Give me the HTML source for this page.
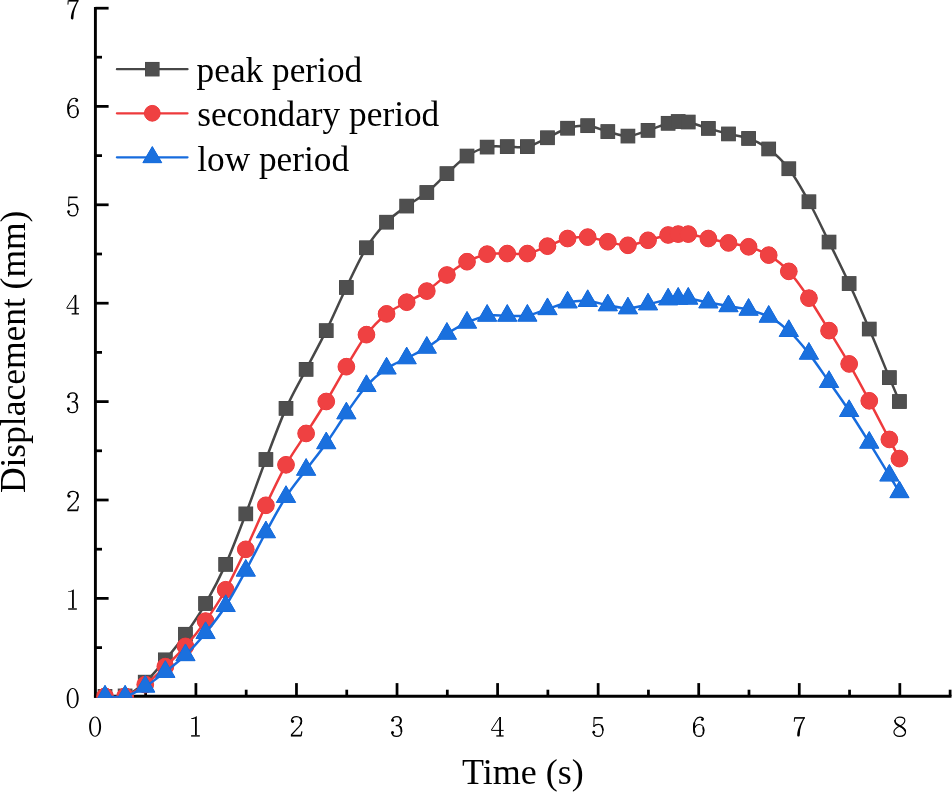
<!DOCTYPE html>
<html><head><meta charset="utf-8"><style>
html,body{margin:0;padding:0;background:#fff;}
svg{display:block;font-family:"Liberation Serif",serif;will-change:transform;}

</style></head><body>
<svg width="952" height="792" viewBox="0 0 952 792">
<defs><clipPath id="c"><rect x="93.95" y="0" width="856.6" height="697.75"/></clipPath></defs>
<rect width="952" height="792" fill="#fff"/>
<line x1="95.4" y1="6.9" x2="95.4" y2="697.75" stroke="#000" stroke-width="2.9"/>
<line x1="93.95" y1="696.3" x2="951.49" y2="696.3" stroke="#000" stroke-width="2.9"/>
<line x1="95.4" y1="647.6" x2="102" y2="647.6" stroke="#000" stroke-width="2.75"/>
<line x1="95.4" y1="598.4" x2="108.6" y2="598.4" stroke="#000" stroke-width="2.75"/>
<line x1="95.4" y1="549.2" x2="102" y2="549.2" stroke="#000" stroke-width="2.75"/>
<line x1="95.4" y1="500" x2="108.6" y2="500" stroke="#000" stroke-width="2.75"/>
<line x1="95.4" y1="450.8" x2="102" y2="450.8" stroke="#000" stroke-width="2.75"/>
<line x1="95.4" y1="401.6" x2="108.6" y2="401.6" stroke="#000" stroke-width="2.75"/>
<line x1="95.4" y1="352.4" x2="102" y2="352.4" stroke="#000" stroke-width="2.75"/>
<line x1="95.4" y1="303.2" x2="108.6" y2="303.2" stroke="#000" stroke-width="2.75"/>
<line x1="95.4" y1="254" x2="102" y2="254" stroke="#000" stroke-width="2.75"/>
<line x1="95.4" y1="204.8" x2="108.6" y2="204.8" stroke="#000" stroke-width="2.75"/>
<line x1="95.4" y1="155.6" x2="102" y2="155.6" stroke="#000" stroke-width="2.75"/>
<line x1="95.4" y1="106.4" x2="108.6" y2="106.4" stroke="#000" stroke-width="2.75"/>
<line x1="95.4" y1="57.2" x2="102" y2="57.2" stroke="#000" stroke-width="2.75"/>
<line x1="95.4" y1="8.2" x2="108.6" y2="8.2" stroke="#000" stroke-width="2.75"/>
<line x1="145.63" y1="696.3" x2="145.63" y2="689.7" stroke="#000" stroke-width="2.75"/>
<line x1="195.91" y1="696.3" x2="195.91" y2="683.1" stroke="#000" stroke-width="2.75"/>
<line x1="246.19" y1="696.3" x2="246.19" y2="689.7" stroke="#000" stroke-width="2.75"/>
<line x1="296.47" y1="696.3" x2="296.47" y2="683.1" stroke="#000" stroke-width="2.75"/>
<line x1="346.75" y1="696.3" x2="346.75" y2="689.7" stroke="#000" stroke-width="2.75"/>
<line x1="397.03" y1="696.3" x2="397.03" y2="683.1" stroke="#000" stroke-width="2.75"/>
<line x1="447.31" y1="696.3" x2="447.31" y2="689.7" stroke="#000" stroke-width="2.75"/>
<line x1="497.59" y1="696.3" x2="497.59" y2="683.1" stroke="#000" stroke-width="2.75"/>
<line x1="547.87" y1="696.3" x2="547.87" y2="689.7" stroke="#000" stroke-width="2.75"/>
<line x1="598.15" y1="696.3" x2="598.15" y2="683.1" stroke="#000" stroke-width="2.75"/>
<line x1="648.43" y1="696.3" x2="648.43" y2="689.7" stroke="#000" stroke-width="2.75"/>
<line x1="698.71" y1="696.3" x2="698.71" y2="683.1" stroke="#000" stroke-width="2.75"/>
<line x1="748.99" y1="696.3" x2="748.99" y2="689.7" stroke="#000" stroke-width="2.75"/>
<line x1="799.27" y1="696.3" x2="799.27" y2="683.1" stroke="#000" stroke-width="2.75"/>
<line x1="849.55" y1="696.3" x2="849.55" y2="689.7" stroke="#000" stroke-width="2.75"/>
<line x1="899.83" y1="696.3" x2="899.83" y2="683.1" stroke="#000" stroke-width="2.75"/>
<line x1="950.11" y1="696.3" x2="950.11" y2="689.7" stroke="#000" stroke-width="2.75"/>
<g clip-path="url(#c)">
<path d="M105.01,696.4C108.36,696.32 118.41,698.28 125.12,695.91C131.82,693.53 138.53,688.16 145.23,682.15C151.93,676.13 158.64,667.81 165.34,659.83C172.05,651.85 178.75,643.66 185.45,634.27C192.16,624.89 198.86,615.16 205.57,603.51C212.27,591.86 218.97,579.32 225.68,564.38C232.38,549.44 239.09,531.34 245.79,513.86C252.49,496.38 259.2,477.08 265.9,459.5C272.61,441.92 279.31,423.4 286.01,408.38C292.72,393.36 299.42,382.32 306.13,369.36C312.83,356.4 319.53,344.27 326.24,330.63C332.94,316.98 339.65,301.28 346.35,287.47C353.05,273.66 359.76,258.64 366.46,247.76C373.17,236.88 379.87,229.15 386.57,222.2C393.28,215.25 399.98,211.03 406.69,206.08C413.39,201.13 420.09,197.92 426.8,192.51C433.5,187.11 440.21,179.72 446.91,173.64C453.61,167.56 460.32,160.47 467.02,156.04C473.73,151.62 480.43,148.67 487.13,147.1C493.84,145.53 500.54,146.69 507.25,146.61C513.95,146.53 520.65,148.08 527.36,146.61C534.06,145.13 540.77,140.82 547.47,137.76C554.17,134.7 560.88,130.24 567.58,128.23C574.29,126.21 580.99,125.11 587.69,125.67C594.4,126.23 601.1,129.83 607.81,131.57C614.51,133.3 621.21,136.29 627.92,136.09C634.62,135.89 641.33,132.52 648.03,130.39C654.73,128.26 663.11,124.79 668.14,123.31C673.17,121.84 674.85,121.75 678.2,121.54C681.55,121.33 683.23,120.89 688.25,122.03C693.28,123.18 701.66,126.44 708.37,128.42C715.07,130.4 721.77,132.26 728.48,133.93C735.18,135.6 741.89,135.94 748.59,138.45C755.29,140.96 762,143.92 768.7,148.97C775.41,154.01 782.11,159.93 788.81,168.73C795.52,177.52 802.22,189.53 808.93,201.75C815.63,213.98 822.33,228.43 829.04,242.06C835.74,255.69 842.45,269.04 849.15,283.54C855.85,298.04 862.56,313.37 869.26,329.05C875.97,344.73 884.35,365.54 889.37,377.61C894.4,389.69 897.75,397.52 899.43,401.5" fill="none" stroke="#474747" stroke-width="2.5"/>
<g fill="#454545" stroke="#454545" stroke-width="1.0"><rect x="98.16" y="689.55" width="13.7" height="13.7"/><rect x="118.27" y="689.06" width="13.7" height="13.7"/><rect x="138.38" y="675.3" width="13.7" height="13.7"/><rect x="158.49" y="652.98" width="13.7" height="13.7"/><rect x="178.6" y="627.42" width="13.7" height="13.7"/><rect x="198.72" y="596.66" width="13.7" height="13.7"/><rect x="218.83" y="557.53" width="13.7" height="13.7"/><rect x="238.94" y="507.01" width="13.7" height="13.7"/><rect x="259.05" y="452.65" width="13.7" height="13.7"/><rect x="279.16" y="401.53" width="13.7" height="13.7"/><rect x="299.28" y="362.51" width="13.7" height="13.7"/><rect x="319.39" y="323.78" width="13.7" height="13.7"/><rect x="339.5" y="280.62" width="13.7" height="13.7"/><rect x="359.61" y="240.91" width="13.7" height="13.7"/><rect x="379.72" y="215.35" width="13.7" height="13.7"/><rect x="399.84" y="199.23" width="13.7" height="13.7"/><rect x="419.95" y="185.66" width="13.7" height="13.7"/><rect x="440.06" y="166.79" width="13.7" height="13.7"/><rect x="460.17" y="149.19" width="13.7" height="13.7"/><rect x="480.28" y="140.25" width="13.7" height="13.7"/><rect x="500.4" y="139.76" width="13.7" height="13.7"/><rect x="520.51" y="139.76" width="13.7" height="13.7"/><rect x="540.62" y="130.91" width="13.7" height="13.7"/><rect x="560.73" y="121.38" width="13.7" height="13.7"/><rect x="580.84" y="118.82" width="13.7" height="13.7"/><rect x="600.96" y="124.72" width="13.7" height="13.7"/><rect x="621.07" y="129.24" width="13.7" height="13.7"/><rect x="641.18" y="123.54" width="13.7" height="13.7"/><rect x="661.29" y="116.46" width="13.7" height="13.7"/><rect x="671.35" y="114.69" width="13.7" height="13.7"/><rect x="681.4" y="115.18" width="13.7" height="13.7"/><rect x="701.52" y="121.57" width="13.7" height="13.7"/><rect x="721.63" y="127.08" width="13.7" height="13.7"/><rect x="741.74" y="131.6" width="13.7" height="13.7"/><rect x="761.85" y="142.12" width="13.7" height="13.7"/><rect x="781.96" y="161.88" width="13.7" height="13.7"/><rect x="802.08" y="194.9" width="13.7" height="13.7"/><rect x="822.19" y="235.21" width="13.7" height="13.7"/><rect x="842.3" y="276.69" width="13.7" height="13.7"/><rect x="862.41" y="322.2" width="13.7" height="13.7"/><rect x="882.52" y="370.76" width="13.7" height="13.7"/><rect x="892.58" y="394.65" width="13.7" height="13.7"/></g><g fill="#4f4f4f"><rect x="98.16" y="689.55" width="13.7" height="13.7"/><rect x="118.27" y="689.06" width="13.7" height="13.7"/><rect x="138.38" y="675.3" width="13.7" height="13.7"/><rect x="158.49" y="652.98" width="13.7" height="13.7"/><rect x="178.6" y="627.42" width="13.7" height="13.7"/><rect x="198.72" y="596.66" width="13.7" height="13.7"/><rect x="218.83" y="557.53" width="13.7" height="13.7"/><rect x="238.94" y="507.01" width="13.7" height="13.7"/><rect x="259.05" y="452.65" width="13.7" height="13.7"/><rect x="279.16" y="401.53" width="13.7" height="13.7"/><rect x="299.28" y="362.51" width="13.7" height="13.7"/><rect x="319.39" y="323.78" width="13.7" height="13.7"/><rect x="339.5" y="280.62" width="13.7" height="13.7"/><rect x="359.61" y="240.91" width="13.7" height="13.7"/><rect x="379.72" y="215.35" width="13.7" height="13.7"/><rect x="399.84" y="199.23" width="13.7" height="13.7"/><rect x="419.95" y="185.66" width="13.7" height="13.7"/><rect x="440.06" y="166.79" width="13.7" height="13.7"/><rect x="460.17" y="149.19" width="13.7" height="13.7"/><rect x="480.28" y="140.25" width="13.7" height="13.7"/><rect x="500.4" y="139.76" width="13.7" height="13.7"/><rect x="520.51" y="139.76" width="13.7" height="13.7"/><rect x="540.62" y="130.91" width="13.7" height="13.7"/><rect x="560.73" y="121.38" width="13.7" height="13.7"/><rect x="580.84" y="118.82" width="13.7" height="13.7"/><rect x="600.96" y="124.72" width="13.7" height="13.7"/><rect x="621.07" y="129.24" width="13.7" height="13.7"/><rect x="641.18" y="123.54" width="13.7" height="13.7"/><rect x="661.29" y="116.46" width="13.7" height="13.7"/><rect x="671.35" y="114.69" width="13.7" height="13.7"/><rect x="681.4" y="115.18" width="13.7" height="13.7"/><rect x="701.52" y="121.57" width="13.7" height="13.7"/><rect x="721.63" y="127.08" width="13.7" height="13.7"/><rect x="741.74" y="131.6" width="13.7" height="13.7"/><rect x="761.85" y="142.12" width="13.7" height="13.7"/><rect x="781.96" y="161.88" width="13.7" height="13.7"/><rect x="802.08" y="194.9" width="13.7" height="13.7"/><rect x="822.19" y="235.21" width="13.7" height="13.7"/><rect x="842.3" y="276.69" width="13.7" height="13.7"/><rect x="862.41" y="322.2" width="13.7" height="13.7"/><rect x="882.52" y="370.76" width="13.7" height="13.7"/><rect x="892.58" y="394.65" width="13.7" height="13.7"/></g>
<path d="M105.01,696.4C108.36,696.4 118.41,698.37 125.12,696.4C131.82,694.43 138.53,689.57 145.23,684.6C151.93,679.64 158.64,672.99 165.34,666.62C172.05,660.24 178.75,653.95 185.45,646.37C192.16,638.78 198.86,630.54 205.57,621.1C212.27,611.67 218.97,601.7 225.68,589.74C232.38,577.78 239.09,563.42 245.79,549.34C252.49,535.27 259.2,519.39 265.9,505.3C272.61,491.22 279.31,476.78 286.01,464.81C292.72,452.83 299.42,444 306.13,433.45C312.83,422.9 319.53,412.62 326.24,401.5C332.94,390.38 339.65,377.84 346.35,366.7C353.05,355.56 359.76,343.45 366.46,334.66C373.17,325.86 379.87,319.32 386.57,313.91C393.28,308.51 399.98,306.02 406.69,302.22C413.39,298.42 420.09,295.65 426.8,291.11C433.5,286.57 440.21,279.89 446.91,274.99C453.61,270.09 460.32,265.19 467.02,261.72C473.73,258.24 480.43,255.51 487.13,254.15C493.84,252.79 500.54,253.66 507.25,253.56C513.95,253.46 520.65,254.79 527.36,253.56C534.06,252.33 540.77,248.69 547.47,246.19C554.17,243.68 560.88,240.03 567.58,238.52C574.29,237.01 580.99,236.6 587.69,237.14C594.4,237.68 601.1,240.4 607.81,241.76C614.51,243.12 621.21,245.55 627.92,245.3C634.62,245.06 641.33,242.01 648.03,240.29C654.73,238.57 663.11,236.01 668.14,234.98C673.17,233.95 674.85,234.24 678.2,234.1C681.55,233.95 683.23,233.36 688.25,234.1C693.28,234.83 701.66,237.04 708.37,238.52C715.07,239.99 721.77,241.57 728.48,242.94C735.18,244.32 741.89,244.74 748.59,246.78C755.29,248.81 762,251.04 768.7,255.13C775.41,259.23 782.11,264.17 788.81,271.35C795.52,278.53 802.22,288.31 808.93,298.19C815.63,308.07 822.33,319.67 829.04,330.63C835.74,341.59 842.45,352.25 849.15,363.95C855.85,375.65 862.56,388.23 869.26,400.81C875.97,413.39 884.35,429.81 889.37,439.44C894.4,449.08 897.75,455.42 899.43,458.61" fill="none" stroke="#ee3a3c" stroke-width="2.5"/>
<g fill="#ec3538" stroke="#ec3538" stroke-width="1.0"><circle cx="105.01" cy="696.4" r="8.35"/><circle cx="125.12" cy="696.4" r="8.35"/><circle cx="145.23" cy="684.6" r="8.35"/><circle cx="165.34" cy="666.62" r="8.35"/><circle cx="185.45" cy="646.37" r="8.35"/><circle cx="205.57" cy="621.1" r="8.35"/><circle cx="225.68" cy="589.74" r="8.35"/><circle cx="245.79" cy="549.34" r="8.35"/><circle cx="265.9" cy="505.3" r="8.35"/><circle cx="286.01" cy="464.81" r="8.35"/><circle cx="306.13" cy="433.45" r="8.35"/><circle cx="326.24" cy="401.5" r="8.35"/><circle cx="346.35" cy="366.7" r="8.35"/><circle cx="366.46" cy="334.66" r="8.35"/><circle cx="386.57" cy="313.91" r="8.35"/><circle cx="406.69" cy="302.22" r="8.35"/><circle cx="426.8" cy="291.11" r="8.35"/><circle cx="446.91" cy="274.99" r="8.35"/><circle cx="467.02" cy="261.72" r="8.35"/><circle cx="487.13" cy="254.15" r="8.35"/><circle cx="507.25" cy="253.56" r="8.35"/><circle cx="527.36" cy="253.56" r="8.35"/><circle cx="547.47" cy="246.19" r="8.35"/><circle cx="567.58" cy="238.52" r="8.35"/><circle cx="587.69" cy="237.14" r="8.35"/><circle cx="607.81" cy="241.76" r="8.35"/><circle cx="627.92" cy="245.3" r="8.35"/><circle cx="648.03" cy="240.29" r="8.35"/><circle cx="668.14" cy="234.98" r="8.35"/><circle cx="678.2" cy="234.1" r="8.35"/><circle cx="688.25" cy="234.1" r="8.35"/><circle cx="708.37" cy="238.52" r="8.35"/><circle cx="728.48" cy="242.94" r="8.35"/><circle cx="748.59" cy="246.78" r="8.35"/><circle cx="768.7" cy="255.13" r="8.35"/><circle cx="788.81" cy="271.35" r="8.35"/><circle cx="808.93" cy="298.19" r="8.35"/><circle cx="829.04" cy="330.63" r="8.35"/><circle cx="849.15" cy="363.95" r="8.35"/><circle cx="869.26" cy="400.81" r="8.35"/><circle cx="889.37" cy="439.44" r="8.35"/><circle cx="899.43" cy="458.61" r="8.35"/></g><g fill="#ef4142"><circle cx="105.01" cy="696.4" r="8.35"/><circle cx="125.12" cy="696.4" r="8.35"/><circle cx="145.23" cy="684.6" r="8.35"/><circle cx="165.34" cy="666.62" r="8.35"/><circle cx="185.45" cy="646.37" r="8.35"/><circle cx="205.57" cy="621.1" r="8.35"/><circle cx="225.68" cy="589.74" r="8.35"/><circle cx="245.79" cy="549.34" r="8.35"/><circle cx="265.9" cy="505.3" r="8.35"/><circle cx="286.01" cy="464.81" r="8.35"/><circle cx="306.13" cy="433.45" r="8.35"/><circle cx="326.24" cy="401.5" r="8.35"/><circle cx="346.35" cy="366.7" r="8.35"/><circle cx="366.46" cy="334.66" r="8.35"/><circle cx="386.57" cy="313.91" r="8.35"/><circle cx="406.69" cy="302.22" r="8.35"/><circle cx="426.8" cy="291.11" r="8.35"/><circle cx="446.91" cy="274.99" r="8.35"/><circle cx="467.02" cy="261.72" r="8.35"/><circle cx="487.13" cy="254.15" r="8.35"/><circle cx="507.25" cy="253.56" r="8.35"/><circle cx="527.36" cy="253.56" r="8.35"/><circle cx="547.47" cy="246.19" r="8.35"/><circle cx="567.58" cy="238.52" r="8.35"/><circle cx="587.69" cy="237.14" r="8.35"/><circle cx="607.81" cy="241.76" r="8.35"/><circle cx="627.92" cy="245.3" r="8.35"/><circle cx="648.03" cy="240.29" r="8.35"/><circle cx="668.14" cy="234.98" r="8.35"/><circle cx="678.2" cy="234.1" r="8.35"/><circle cx="688.25" cy="234.1" r="8.35"/><circle cx="708.37" cy="238.52" r="8.35"/><circle cx="728.48" cy="242.94" r="8.35"/><circle cx="748.59" cy="246.78" r="8.35"/><circle cx="768.7" cy="255.13" r="8.35"/><circle cx="788.81" cy="271.35" r="8.35"/><circle cx="808.93" cy="298.19" r="8.35"/><circle cx="829.04" cy="330.63" r="8.35"/><circle cx="849.15" cy="363.95" r="8.35"/><circle cx="869.26" cy="400.81" r="8.35"/><circle cx="889.37" cy="439.44" r="8.35"/><circle cx="899.43" cy="458.61" r="8.35"/></g>
<path d="M105.01,696.4C108.36,696.4 118.41,698.04 125.12,696.4C131.82,694.76 138.53,690.67 145.23,686.57C151.93,682.47 158.64,677.07 165.34,671.82C172.05,666.58 178.75,661.59 185.45,655.11C192.16,648.64 198.86,641.19 205.57,633C212.27,624.8 218.97,616.37 225.68,605.96C232.38,595.56 239.09,582.86 245.79,570.58C252.49,558.29 259.2,544.53 265.9,532.24C272.61,519.95 279.31,507.27 286.01,496.85C292.72,486.43 299.42,478.67 306.13,469.72C312.83,460.77 319.53,452.58 326.24,443.18C332.94,433.78 339.65,422.83 346.35,413.3C353.05,403.76 359.76,393.44 366.46,385.97C373.17,378.5 379.87,373.09 386.57,368.47C393.28,363.85 399.98,361.72 406.69,358.25C413.39,354.77 420.09,351.73 426.8,347.63C433.5,343.54 440.21,337.85 446.91,333.67C453.61,329.5 460.32,325.56 467.02,322.57C473.73,319.57 480.43,316.83 487.13,315.68C493.84,314.54 500.54,315.7 507.25,315.68C513.95,315.67 520.65,316.68 527.36,315.59C534.06,314.49 540.77,311.29 547.47,309.1C554.17,306.9 560.88,303.77 567.58,302.41C574.29,301.05 580.99,300.46 587.69,300.94C594.4,301.41 601.1,304.04 607.81,305.26C614.51,306.49 621.21,308.46 627.92,308.31C634.62,308.16 641.33,305.87 648.03,304.38C654.73,302.89 663.11,300.33 668.14,299.37C673.17,298.4 674.85,298.71 678.2,298.58C681.55,298.45 683.23,297.94 688.25,298.58C693.28,299.22 701.66,301.15 708.37,302.41C715.07,303.68 721.77,304.94 728.48,306.15C735.18,307.36 741.89,307.93 748.59,309.69C755.29,311.44 762,313.13 768.7,316.67C775.41,320.21 782.11,324.76 788.81,330.92C795.52,337.08 802.22,345.14 808.93,353.63C815.63,362.11 822.33,372.29 829.04,381.84C835.74,391.39 842.45,400.81 849.15,410.94C855.85,421.06 862.56,431.83 869.26,442.59C875.97,453.35 884.35,467.26 889.37,475.52C894.4,483.78 897.75,489.36 899.43,492.13" fill="none" stroke="#176cde" stroke-width="2.5"/>
<g fill="#1066da" stroke="#1066da" stroke-width="1.0"><path d="M105.01,685.27L114.64,701.97L95.37,701.97Z"/><path d="M125.12,685.27L134.75,701.97L115.48,701.97Z"/><path d="M145.23,675.44L154.86,692.14L135.59,692.14Z"/><path d="M165.34,660.69L174.98,677.39L155.71,677.39Z"/><path d="M185.45,643.98L195.09,660.68L175.82,660.68Z"/><path d="M205.57,621.86L215.2,638.56L195.93,638.56Z"/><path d="M225.68,594.83L235.31,611.53L216.04,611.53Z"/><path d="M245.79,559.44L255.42,576.14L236.16,576.14Z"/><path d="M265.9,521.11L275.54,537.81L256.27,537.81Z"/><path d="M286.01,485.72L295.65,502.42L276.38,502.42Z"/><path d="M306.13,458.59L315.76,475.29L296.49,475.29Z"/><path d="M326.24,432.05L335.87,448.75L316.6,448.75Z"/><path d="M346.35,402.16L355.99,418.86L336.72,418.86Z"/><path d="M366.46,374.84L376.1,391.54L356.83,391.54Z"/><path d="M386.57,357.34L396.21,374.04L376.94,374.04Z"/><path d="M406.69,347.11L416.32,363.81L397.05,363.81Z"/><path d="M426.8,336.5L436.43,353.2L417.16,353.2Z"/><path d="M446.91,322.54L456.55,339.24L437.28,339.24Z"/><path d="M467.02,311.43L476.66,328.13L457.39,328.13Z"/><path d="M487.13,304.55L496.77,321.25L477.5,321.25Z"/><path d="M507.25,304.55L516.88,321.25L497.61,321.25Z"/><path d="M527.36,304.45L536.99,321.15L517.72,321.15Z"/><path d="M547.47,297.96L557.11,314.66L537.84,314.66Z"/><path d="M567.58,291.28L577.22,307.98L557.95,307.98Z"/><path d="M587.69,289.81L597.33,306.51L578.06,306.51Z"/><path d="M607.81,294.13L617.44,310.83L598.17,310.83Z"/><path d="M627.92,297.18L637.55,313.88L618.28,313.88Z"/><path d="M648.03,293.25L657.67,309.95L638.4,309.95Z"/><path d="M668.14,288.23L677.78,304.93L658.51,304.93Z"/><path d="M678.2,287.45L687.83,304.15L668.56,304.15Z"/><path d="M688.25,287.45L697.89,304.15L678.62,304.15Z"/><path d="M708.37,291.28L718,307.98L698.73,307.98Z"/><path d="M728.48,295.02L738.11,311.72L718.84,311.72Z"/><path d="M748.59,298.55L758.23,315.25L738.96,315.25Z"/><path d="M768.7,305.53L778.34,322.23L759.07,322.23Z"/><path d="M788.81,319.79L798.45,336.49L779.18,336.49Z"/><path d="M808.93,342.49L818.56,359.19L799.29,359.19Z"/><path d="M829.04,370.71L838.67,387.41L819.4,387.41Z"/><path d="M849.15,399.8L858.79,416.5L839.52,416.5Z"/><path d="M869.26,431.46L878.9,448.16L859.63,448.16Z"/><path d="M889.37,464.39L899.01,481.09L879.74,481.09Z"/><path d="M899.43,481L909.07,497.7L889.8,497.7Z"/></g><g fill="#1a70de"><path d="M105.01,685.27L114.64,701.97L95.37,701.97Z"/><path d="M125.12,685.27L134.75,701.97L115.48,701.97Z"/><path d="M145.23,675.44L154.86,692.14L135.59,692.14Z"/><path d="M165.34,660.69L174.98,677.39L155.71,677.39Z"/><path d="M185.45,643.98L195.09,660.68L175.82,660.68Z"/><path d="M205.57,621.86L215.2,638.56L195.93,638.56Z"/><path d="M225.68,594.83L235.31,611.53L216.04,611.53Z"/><path d="M245.79,559.44L255.42,576.14L236.16,576.14Z"/><path d="M265.9,521.11L275.54,537.81L256.27,537.81Z"/><path d="M286.01,485.72L295.65,502.42L276.38,502.42Z"/><path d="M306.13,458.59L315.76,475.29L296.49,475.29Z"/><path d="M326.24,432.05L335.87,448.75L316.6,448.75Z"/><path d="M346.35,402.16L355.99,418.86L336.72,418.86Z"/><path d="M366.46,374.84L376.1,391.54L356.83,391.54Z"/><path d="M386.57,357.34L396.21,374.04L376.94,374.04Z"/><path d="M406.69,347.11L416.32,363.81L397.05,363.81Z"/><path d="M426.8,336.5L436.43,353.2L417.16,353.2Z"/><path d="M446.91,322.54L456.55,339.24L437.28,339.24Z"/><path d="M467.02,311.43L476.66,328.13L457.39,328.13Z"/><path d="M487.13,304.55L496.77,321.25L477.5,321.25Z"/><path d="M507.25,304.55L516.88,321.25L497.61,321.25Z"/><path d="M527.36,304.45L536.99,321.15L517.72,321.15Z"/><path d="M547.47,297.96L557.11,314.66L537.84,314.66Z"/><path d="M567.58,291.28L577.22,307.98L557.95,307.98Z"/><path d="M587.69,289.81L597.33,306.51L578.06,306.51Z"/><path d="M607.81,294.13L617.44,310.83L598.17,310.83Z"/><path d="M627.92,297.18L637.55,313.88L618.28,313.88Z"/><path d="M648.03,293.25L657.67,309.95L638.4,309.95Z"/><path d="M668.14,288.23L677.78,304.93L658.51,304.93Z"/><path d="M678.2,287.45L687.83,304.15L668.56,304.15Z"/><path d="M688.25,287.45L697.89,304.15L678.62,304.15Z"/><path d="M708.37,291.28L718,307.98L698.73,307.98Z"/><path d="M728.48,295.02L738.11,311.72L718.84,311.72Z"/><path d="M748.59,298.55L758.23,315.25L738.96,315.25Z"/><path d="M768.7,305.53L778.34,322.23L759.07,322.23Z"/><path d="M788.81,319.79L798.45,336.49L779.18,336.49Z"/><path d="M808.93,342.49L818.56,359.19L799.29,359.19Z"/><path d="M829.04,370.71L838.67,387.41L819.4,387.41Z"/><path d="M849.15,399.8L858.79,416.5L839.52,416.5Z"/><path d="M869.26,431.46L878.9,448.16L859.63,448.16Z"/><path d="M889.37,464.39L899.01,481.09L879.74,481.09Z"/><path d="M899.43,481L909.07,497.7L889.8,497.7Z"/></g>
</g>
<g font-size="31" fill="#000">
<g transform="translate(72.95,708.1)"><path d="M-0.25,-20.05 C3.2,-20.05 5.75,-15.6 5.75,-9.95 C5.75,-4.3 3.2,0.1 -0.25,0.1 C-3.7,0.1 -6.25,-4.3 -6.25,-9.95 C-6.25,-15.6 -3.7,-20.05 -0.25,-20.05 Z M-0.25,-19.1 C-2.2,-19.1 -4.3,-16.5 -4.3,-9.95 C-4.3,-3.4 -2.2,-0.85 -0.25,-0.85 C1.7,-0.85 3.8,-3.4 3.8,-9.95 C3.8,-16.5 1.7,-19.1 -0.25,-19.1 Z" fill-rule="evenodd"/></g>
<g transform="translate(72.95,609.7)"><path d="M-0.9,-18.2 L-0.9,-1.4 L0.9,-1.4 L0.9,-20.3 L0.4,-20.3 C-0.8,-19.3 -2.6,-18.6 -4.7,-18.4 L-4.7,-17.6 C-3.2,-17.7 -1.9,-17.9 -0.9,-18.2 Z" /><path d="M-4.8,-0.7 L3.9,-0.7" stroke="#000" stroke-width="1.4" fill="none"/></g>
<g transform="translate(72.95,511.3)"><circle cx="-3.9" cy="-15.1" r="1.45"/><path d="M-5.1,-15.3 C-5,-18.3 -2.6,-19.95 0.2,-19.95 C3.2,-19.95 5.1,-17.9 5.1,-15 C5.1,-11.8 2.6,-9.6 -0.2,-7 L-5.2,-1.6" stroke="#000" stroke-width="1.25" fill="none"/><path d="M-5.6,-0.95 L4.8,-0.95" stroke="#000" stroke-width="1.8" fill="none"/><path d="M4.6,-0.6 L5.4,-5.2" stroke="#000" stroke-width="1.2" fill="none"/><path d="M3.6,-18.9 C5.1,-17.6 5.3,-14.6 3.9,-12.4" stroke="#000" stroke-width="1.8" fill="none"/></g>
<g transform="translate(72.95,412.9)"><circle cx="-4.4" cy="-16.2" r="1.45"/><path d="M-5.0,-16.4 C-4.5,-18.9 -2.4,-19.95 -0.1,-19.95 C2.4,-19.95 4.0,-18.4 4.0,-15.9 C4.0,-13.2 2.0,-11.1 -1.3,-11.0 L0.2,-11.0 C3.0,-10.9 4.5,-8.6 4.5,-5.7 C4.5,-2.3 2.4,-0.2 -0.6,-0.2 C-2.8,-0.2 -4.5,-1.3 -5.1,-3.6" stroke="#000" stroke-width="1.2" fill="none"/><circle cx="-4.5" cy="-4.1" r="1.5"/><path d="M3.0,-18.6 C4.0,-17.2 4.0,-14.8 2.8,-13.2" stroke="#000" stroke-width="1.6" fill="none"/><path d="M2.8,-10.2 C4.3,-9 4.6,-7 4.4,-4.5" stroke="#000" stroke-width="1.7" fill="none"/></g>
<g transform="translate(72.95,314.5)"><path d="M2.5,-19.6 L2.5,-0.6" stroke="#000" stroke-width="1.8" fill="none"/><path d="M2,-19.2 L-6.2,-6.6" stroke="#000" stroke-width="1.0" fill="none"/><path d="M-6.3,-6.2 L6.1,-6.2" stroke="#000" stroke-width="1.0" fill="none"/><path d="M-1.3,-0.65 L6,-0.65" stroke="#000" stroke-width="1.3" fill="none"/></g>
<g transform="translate(72.95,216.1)"><path d="M-4.3,-18.75 L4.6,-18.75" stroke="#000" stroke-width="1.6" fill="none"/><path d="M-4.0,-19.3 L-4.4,-9.8" stroke="#000" stroke-width="1.0" fill="none"/><path d="M-4.3,-10.0 C-3.4,-11.5 -1.7,-12.1 0.2,-12.1 C3.1,-12.1 4.8,-9.6 4.8,-6.3 C4.8,-2.6 2.8,-0.15 -0.1,-0.15 C-2.4,-0.15 -4.3,-1.5 -4.9,-3.9" stroke="#000" stroke-width="1.25" fill="none"/><circle cx="-4.4" cy="-4.4" r="1.4"/><path d="M3.0,-10.9 C4.4,-9.6 4.8,-8 4.8,-6" stroke="#000" stroke-width="1.7" fill="none"/></g>
<g transform="translate(72.95,117.7)"><circle cx="3.6" cy="-17.0" r="1.35"/><path d="M4.8,-17.2 C4.5,-18.7 3,-19.45 1.2,-19.45 C-2.4,-19.45 -4.9,-15.3 -4.9,-9.2 C-4.9,-3 -2.6,-0.15 0.2,-0.15 C3.2,-0.15 5.2,-2.6 5.2,-6.1 C5.2,-9.6 3.2,-12.1 0.5,-12.1 C-1.6,-12.1 -3.2,-10.8 -3.9,-8.8" stroke="#000" stroke-width="1.2" fill="none"/><path d="M-4.2,-14 C-5,-11.5 -5,-6 -4,-3.5" stroke="#000" stroke-width="1.9" fill="none"/><path d="M4.2,-9.5 C5.0,-7.5 5.0,-4.8 4.2,-2.9" stroke="#000" stroke-width="1.6" fill="none"/></g>
<g transform="translate(72.95,19.5)"><path d="M-4.4,-18.7 L5.4,-18.7" stroke="#000" stroke-width="1.6" fill="none"/><path d="M-4.7,-19.2 L-5.0,-14.9" stroke="#000" stroke-width="1.0" fill="none"/><path d="M4.5,-19.3 L5.8,-19.3 C2.8,-13.6 0.6,-8.6 0.5,-1.6 C0.5,-0.5 -0.2,0 -0.8,0 C-1.5,0 -2.1,-0.5 -2.1,-1.4 C-1.9,-7.4 1,-12.8 4.5,-19.3 Z"/></g>
<g transform="translate(95.35,736.6)"><path d="M-0.25,-20.05 C3.2,-20.05 5.75,-15.6 5.75,-9.95 C5.75,-4.3 3.2,0.1 -0.25,0.1 C-3.7,0.1 -6.25,-4.3 -6.25,-9.95 C-6.25,-15.6 -3.7,-20.05 -0.25,-20.05 Z M-0.25,-19.1 C-2.2,-19.1 -4.3,-16.5 -4.3,-9.95 C-4.3,-3.4 -2.2,-0.85 -0.25,-0.85 C1.7,-0.85 3.8,-3.4 3.8,-9.95 C3.8,-16.5 1.7,-19.1 -0.25,-19.1 Z" fill-rule="evenodd"/></g>
<g transform="translate(195.91,736.6)"><path d="M-0.9,-18.2 L-0.9,-1.4 L0.9,-1.4 L0.9,-20.3 L0.4,-20.3 C-0.8,-19.3 -2.6,-18.6 -4.7,-18.4 L-4.7,-17.6 C-3.2,-17.7 -1.9,-17.9 -0.9,-18.2 Z" /><path d="M-4.8,-0.7 L3.9,-0.7" stroke="#000" stroke-width="1.4" fill="none"/></g>
<g transform="translate(296.47,736.6)"><circle cx="-3.9" cy="-15.1" r="1.45"/><path d="M-5.1,-15.3 C-5,-18.3 -2.6,-19.95 0.2,-19.95 C3.2,-19.95 5.1,-17.9 5.1,-15 C5.1,-11.8 2.6,-9.6 -0.2,-7 L-5.2,-1.6" stroke="#000" stroke-width="1.25" fill="none"/><path d="M-5.6,-0.95 L4.8,-0.95" stroke="#000" stroke-width="1.8" fill="none"/><path d="M4.6,-0.6 L5.4,-5.2" stroke="#000" stroke-width="1.2" fill="none"/><path d="M3.6,-18.9 C5.1,-17.6 5.3,-14.6 3.9,-12.4" stroke="#000" stroke-width="1.8" fill="none"/></g>
<g transform="translate(397.03,736.6)"><circle cx="-4.4" cy="-16.2" r="1.45"/><path d="M-5.0,-16.4 C-4.5,-18.9 -2.4,-19.95 -0.1,-19.95 C2.4,-19.95 4.0,-18.4 4.0,-15.9 C4.0,-13.2 2.0,-11.1 -1.3,-11.0 L0.2,-11.0 C3.0,-10.9 4.5,-8.6 4.5,-5.7 C4.5,-2.3 2.4,-0.2 -0.6,-0.2 C-2.8,-0.2 -4.5,-1.3 -5.1,-3.6" stroke="#000" stroke-width="1.2" fill="none"/><circle cx="-4.5" cy="-4.1" r="1.5"/><path d="M3.0,-18.6 C4.0,-17.2 4.0,-14.8 2.8,-13.2" stroke="#000" stroke-width="1.6" fill="none"/><path d="M2.8,-10.2 C4.3,-9 4.6,-7 4.4,-4.5" stroke="#000" stroke-width="1.7" fill="none"/></g>
<g transform="translate(497.59,736.6)"><path d="M2.5,-19.6 L2.5,-0.6" stroke="#000" stroke-width="1.8" fill="none"/><path d="M2,-19.2 L-6.2,-6.6" stroke="#000" stroke-width="1.0" fill="none"/><path d="M-6.3,-6.2 L6.1,-6.2" stroke="#000" stroke-width="1.0" fill="none"/><path d="M-1.3,-0.65 L6,-0.65" stroke="#000" stroke-width="1.3" fill="none"/></g>
<g transform="translate(598.15,736.6)"><path d="M-4.3,-18.75 L4.6,-18.75" stroke="#000" stroke-width="1.6" fill="none"/><path d="M-4.0,-19.3 L-4.4,-9.8" stroke="#000" stroke-width="1.0" fill="none"/><path d="M-4.3,-10.0 C-3.4,-11.5 -1.7,-12.1 0.2,-12.1 C3.1,-12.1 4.8,-9.6 4.8,-6.3 C4.8,-2.6 2.8,-0.15 -0.1,-0.15 C-2.4,-0.15 -4.3,-1.5 -4.9,-3.9" stroke="#000" stroke-width="1.25" fill="none"/><circle cx="-4.4" cy="-4.4" r="1.4"/><path d="M3.0,-10.9 C4.4,-9.6 4.8,-8 4.8,-6" stroke="#000" stroke-width="1.7" fill="none"/></g>
<g transform="translate(698.71,736.6)"><circle cx="3.6" cy="-17.0" r="1.35"/><path d="M4.8,-17.2 C4.5,-18.7 3,-19.45 1.2,-19.45 C-2.4,-19.45 -4.9,-15.3 -4.9,-9.2 C-4.9,-3 -2.6,-0.15 0.2,-0.15 C3.2,-0.15 5.2,-2.6 5.2,-6.1 C5.2,-9.6 3.2,-12.1 0.5,-12.1 C-1.6,-12.1 -3.2,-10.8 -3.9,-8.8" stroke="#000" stroke-width="1.2" fill="none"/><path d="M-4.2,-14 C-5,-11.5 -5,-6 -4,-3.5" stroke="#000" stroke-width="1.9" fill="none"/><path d="M4.2,-9.5 C5.0,-7.5 5.0,-4.8 4.2,-2.9" stroke="#000" stroke-width="1.6" fill="none"/></g>
<g transform="translate(799.27,736.6)"><path d="M-4.4,-18.7 L5.4,-18.7" stroke="#000" stroke-width="1.6" fill="none"/><path d="M-4.7,-19.2 L-5.0,-14.9" stroke="#000" stroke-width="1.0" fill="none"/><path d="M4.5,-19.3 L5.8,-19.3 C2.8,-13.6 0.6,-8.6 0.5,-1.6 C0.5,-0.5 -0.2,0 -0.8,0 C-1.5,0 -2.1,-0.5 -2.1,-1.4 C-1.9,-7.4 1,-12.8 4.5,-19.3 Z"/></g>
<g transform="translate(899.83,736.6)"><path d="M-4.8,-15.6 C-4.8,-18.1 -2.4,-19.5 0,-19.5 C2.9,-19.5 5.0,-18.3 5.0,-16.2 C5.0,-14 2.8,-12 0,-10.6 C-3.3,-9 -5.9,-7.4 -5.9,-4.6 C-5.9,-1.8 -3.3,-0.15 -0.3,-0.15 C3,-0.15 5.7,-1.8 5.7,-4.6 C5.7,-7.3 3.6,-8.7 0,-10.6 C-3,-12.2 -4.8,-13.4 -4.8,-15.6 Z" stroke="#000" stroke-width="1.15" fill="none"/><path d="M-4.3,-13.4 C-3,-11.9 -1,-11.1 1.5,-9.8 C3.8,-8.5 5.2,-7.2 5.5,-5.3" stroke="#000" stroke-width="1.8" fill="none"/><path d="M-4.9,-16.5 C-4.9,-15.5 -4.7,-14.6 -4.3,-13.8" stroke="#000" stroke-width="1.5" fill="none"/></g>
</g>
<g fill="#000">
<line x1="116.9" y1="69.2" x2="187.5" y2="69.2" stroke="#474747" stroke-width="2.25" stroke-linecap="round"/>
<g fill="#454545" stroke="#454545" stroke-width="1.0"><rect x="145.55" y="62.45" width="13.5" height="13.5"/></g><g fill="#4f4f4f"><rect x="145.55" y="62.45" width="13.5" height="13.5"/></g>
<text x="196.6" y="82.35" font-size="35.3">peak period</text>
<line x1="116.9" y1="113.3" x2="187.5" y2="113.3" stroke="#ee3a3c" stroke-width="2.25" stroke-linecap="round"/>
<g fill="#ec3538" stroke="#ec3538" stroke-width="1.0"><circle cx="152.3" cy="113.3" r="7.85"/></g><g fill="#ef4142"><circle cx="152.3" cy="113.3" r="7.85"/></g>
<text x="197.2" y="126.1" font-size="35.3">secondary period</text>
<line x1="116.9" y1="157.3" x2="187.5" y2="157.3" stroke="#176cde" stroke-width="2.25" stroke-linecap="round"/>
<g fill="#1066da" stroke="#1066da" stroke-width="1.0"><path d="M152.3,146.57L161.74,162.67L142.87,162.67Z"/></g><g fill="#1a70de"><path d="M152.3,146.57L161.74,162.67L142.87,162.67Z"/></g>
<text x="197.2" y="170.5" font-size="35.3">low period</text>
</g>
<text x="462" y="784" font-size="36" fill="#000">Time (s)</text>
<text transform="translate(24.7,493.1) rotate(-90)" font-size="35.45" fill="#000">Displacement (mm)</text>
</svg>
</body></html>
